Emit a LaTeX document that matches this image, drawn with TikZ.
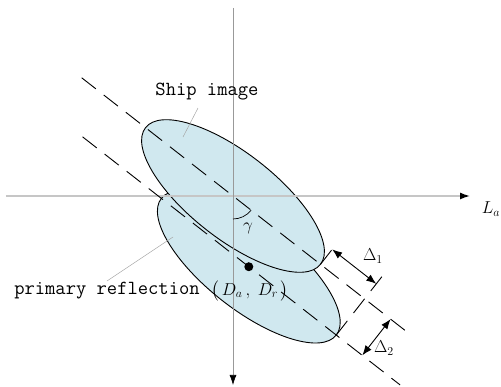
\documentclass[tikz,border=0pt]{standalone}
\usepackage{amsmath,amssymb}
\usepackage{tikz}
\usetikzlibrary{arrows.meta,calc}
\definecolor{shipblue}{RGB}{208,232,239}

\begin{document}
\begin{tikzpicture}[x=1pt,y=1pt,
	dashline/.style={line width=0.9pt,dash pattern=on 18pt off 10pt},
	deltaarrow/.style={line width=0.9pt,{Latex[length=10pt,width=7.5pt]}-{Latex[length=10pt,width=7.5pt]}},
	mathlbl/.style={font=\fontsize{17}{20}\selectfont},
	ttlbl/.style={font=\fontsize{20}{24}\selectfont\ttfamily},
	pointer/.style={gray!70,line width=0.5pt}]

	\useasboundingbox (-233,-191) rectangle (268,196);

	% the two images, turned along the ship axis
	\begin{scope}[rotate=-38]
		\coordinate (O) at (0,0);
		\coordinate (D) at (56,-46);

		\filldraw[fill=shipblue, line width=0.9pt] (D) ellipse [x radius=111, y radius=43];
		\filldraw[fill=shipblue, line width=0.9pt] (O) ellipse [x radius=111, y radius=43];

		\coordinate (l1a) at (-192,0);
		\coordinate (l1b) at (223,0);
		\coordinate (l2a) at (-155,-46);
		\coordinate (l2b) at (248,-46);

		% perpendiculars at the two tips
		\coordinate (t1a) at (111,0);
		\coordinate (t1b) at (111,28);
		\coordinate (t2a) at (167,-46);
		\coordinate (t2b) at (167,28);

		\coordinate (d1a) at (111,19);
		\coordinate (d1b) at (167,19);
		\coordinate (d2a) at (200,0);
		\coordinate (d2b) at (200,-46);
	\end{scope}

	% axes
	\coordinate (W) at (-227,0);
	\coordinate (E) at (237,0);
	\coordinate (N) at (0,188);
	\coordinate (S) at (0,-189);
	\draw[gray!45, line width=1.4pt, -{Latex[length=10pt,width=7pt,color=black]}] (W) -- (E);
	\draw[gray!80, line width=0.6pt, -{Latex[length=10pt,width=7pt,color=black]}] (N) -- (S);

	\draw[dashline] (l1a) -- (l1b);
	\draw[dashline] (l2a) -- (l2b);
	\draw[dashline] (t1a) -- (t1b);
	\draw[dashline] (t2a) -- (t2b);

	\draw[deltaarrow] (d1a) -- (d1b);
	\draw[deltaarrow] (d2a) -- (d2b);

	% angle gamma
	\draw[line width=0.7pt] (0,-23) arc [start angle=-90, end angle=-38, radius=23];
	\node[mathlbl] (gam) at (15,-32) {$\gamma$};

	\fill (D) circle (4.5);
	\node[mathlbl] (Dar) at (17,-95) {$\bigl(\,D_a\,,\;D_r\,\bigr)$};

	\node[mathlbl] (De1) at (140,-60) {$\Delta_1$};
	\node[mathlbl] (De2) at (151,-152) {$\Delta_2$};
	\node[mathlbl] (La) at (258,-13) {$L_a$};

	\node[ttlbl] (ship) at (-26,104) {Ship image};
	\node[ttlbl] (prim) at (-126,-95) {primary reflection};

	\coordinate (sp) at (-50,59);
	\coordinate (pp) at (-60,-41);
	\draw[pointer] (ship.south) ++(-9,-4) -- (sp);
	\draw[pointer] (prim.north) ++(0,-2) -- (pp);

\end{tikzpicture}
\end{document}
